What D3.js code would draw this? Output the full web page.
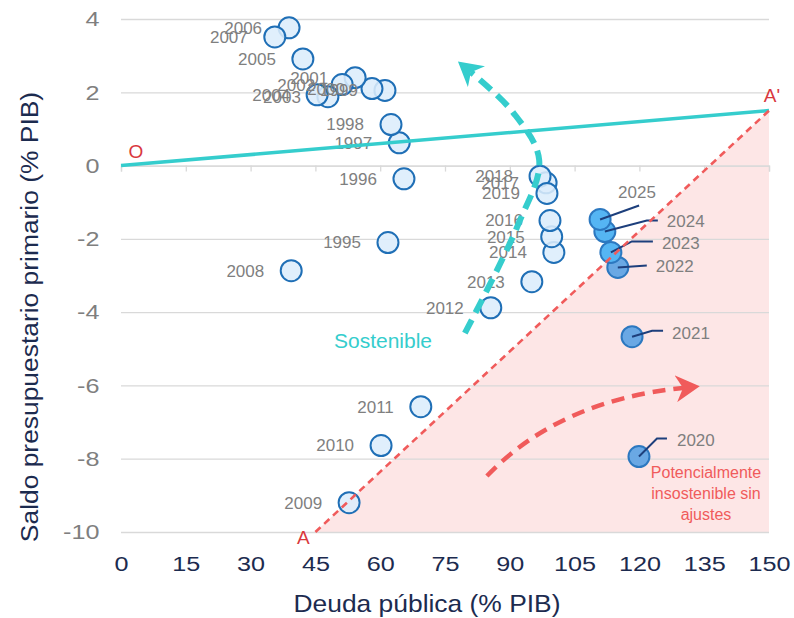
<!DOCTYPE html>
<html>
<head>
<meta charset="utf-8">
<script src="https://cdn.jsdelivr.net/npm/d3@7"></script>
<style>
body{margin:0;background:#fff;}
text{font-family:"Liberation Sans",Arial,sans-serif;}
</style>
</head>
<body>
<div id="chart"></div>
<script>
(function(){
"use strict";

// data (deuda % PIB, saldo primario % PIB)
var years = ["1995","1996","1997","1998","1999","2000","2001","2002","2003","2004",
  "2005","2006","2007","2008","2009","2010","2011","2012","2013","2014",
  "2015","2016","2017","2018","2019","2020","2021","2022","2023","2024","2025"];
var debt = [61.8,65.5,64.4,62.5,61.1,58.1,54.2,51.2,47.9,45.4,
  42.1,38.9,35.6,39.4,52.8,60.2,69.4,85.6,95.1,100.2,
  99.7,99.3,98.4,97.0,98.6,119.9,118.3,115.0,113.4,112.0,110.9];
var balance = [-2.10,-0.36,0.62,1.12,2.05,2.10,2.40,2.21,1.88,1.93,
  2.91,3.76,3.51,-2.87,-9.20,-7.64,-6.58,-3.88,-3.17,-2.37,
  -1.94,-1.50,-0.47,-0.29,-0.76,-7.94,-4.67,-2.78,-2.37,-1.80,-1.47];
var projected = ["2020","2021","2022","2023","2024","2025"];
var brightYears = ["2023","2024","2025"];

var xTicks = [0,15,30,45,60,75,90,105,120,135,150];
var yTicks = [-10,-8,-6,-4,-2,0,2,4];

// reference lines / zones (data units)
var lineOA = [[0,0],[150,1.5]];
var lineAA = [[45,-10],[150,1.5]];
var riskZone = [[45,-10],[150,1.5],[150,-10]];
var sustArc = [[79.6,-4.57],[91.9,-1.62],[96.8,0.15],[90.7,1.46],[81.0,2.55]];
var riskArc = {start:[84.7,-8.47], ctrl:[101.6,-6.40], end:[130.1,-6.07]};

// callout layout for projections (pixels from the dot)
var callouts = {
  "2025": {line:[[39,-14]], label:[18,-27]},
  "2024": {line:[[42,-11],[53,-11]], label:[62,-10]},
  "2023": {line:[[21,-11],[42,-11]], label:[51,-9]},
  "2022": {line:[[29,-2]], label:[38,-1]},
  "2021": {line:[[20,-6],[31,-6]], label:[40,-4]},
  "2020": {line:[[18,-18],[28,-18]], label:[38,-16]}
};

var margin = {top: 19, left: 121};
var width = 648;
var height = 513;
var teal = "#35cdcd";
var red = "#f05b5b";
var navy = "#1c2b4f";
var grey = "#7f7f7f";

var svg = d3.select("#chart").append("svg")
  .attr("width", 794)
  .attr("height", 618);

var defs = svg.append("defs");
function head(id, color){
  defs.append("marker")
    .attr("id", id)
    .attr("viewBox", "0 0 10 10")
    .attr("refX", 3).attr("refY", 5)
    .attr("markerWidth", 24).attr("markerHeight", 27)
    .attr("markerUnits", "userSpaceOnUse")
    .attr("preserveAspectRatio", "none")
    .attr("orient", "auto")
  .append("path")
    .attr("d", "M0,0L10,5L0,10L3,5Z")
    .attr("fill", color);
}
head("tealHead", teal);
head("redHead", red);

var g = svg.append("g")
  .attr("transform", "translate(" + margin.left + "," + margin.top + ")");

var x = d3.scaleLinear().domain([0,150]).range([0,width]);
var y = d3.scaleLinear().domain([-10,4]).range([height,0]);

var line = d3.line().x(function(d){return x(d[0]);}).y(function(d){return y(d[1]);});

// zona potencialmente insostenible
g.append("path")
  .attr("d", line(riskZone) + "Z")
  .attr("fill", "#fde6e6");

// grid + y labels
var yAxis = g.append("g")
  .call(d3.axisLeft(y).tickValues(yTicks).tickSizeInner(-width).tickSizeOuter(0).tickPadding(18)
    .tickFormat(function(d){return String(d);}));
yAxis.select(".domain").remove();
yAxis.selectAll("line").attr("stroke", "#d9d9d9").attr("stroke-width", 1.3);
yAxis.selectAll("text")
  .attr("fill", grey)
  .style("font-size", "21px")
  .attr("transform", "scale(1.2,1)");

// x axis on zero line (ticks only)
var zeroAxis = g.append("g")
  .attr("transform", "translate(0," + y(0) + ")")
  .call(d3.axisBottom(x).tickValues(xTicks).tickSize(6).tickFormat(""));
zeroAxis.selectAll("line,path").attr("stroke", "#d9d9d9").attr("stroke-width", 1.3);

// x labels at bottom
var xAxis = g.append("g")
  .attr("transform", "translate(0," + height + ")")
  .call(d3.axisBottom(x).tickValues(xTicks).tickSize(0).tickPadding(24));
xAxis.select(".domain").remove();
xAxis.selectAll("text")
  .attr("fill", navy)
  .style("font-size", "21px")
  .attr("transform", "scale(1.2,1)");

// points
var pts = years.map(function(yr, i){
  return {year: yr, x: debt[i], y: balance[i], proj: projected.indexOf(yr) >= 0};
});

g.selectAll(".dot")
  .data(pts)
  .enter()
  .append("circle")
    .attr("class", "dot")
    .attr("cx", function(d){return x(d.x);})
    .attr("cy", function(d){return y(d.y);})
    .attr("r", 10.5)
    .attr("fill", function(d){
      if (!d.proj) return "#dcedfc";
      return brightYears.indexOf(d.year) >= 0 ? "#55b5f3" : "#6aa8e4";
    })
    .attr("fill-opacity", function(d){return d.proj ? 1 : 0.88;})
    .attr("stroke", function(d){return d.proj ? "#2c78c0" : "#1f6fb6";})
    .attr("stroke-width", 2);

// year labels (historical)
g.selectAll(".yr")
  .data(pts.filter(function(d){return !d.proj;}))
  .enter()
  .append("text")
    .attr("class", "yr")
    .attr("x", function(d){return x(d.x) - 27;})
    .attr("y", function(d){return y(d.y);})
    .attr("dy", "0.35em")
    .attr("text-anchor", "end")
    .attr("fill", grey)
    .style("font-size", "17px")
    .text(function(d){return d.year;});

// projections with leader lines
pts.filter(function(d){return d.proj;}).forEach(function(d){
  var c = callouts[d.year];
  var cx = x(d.x), cy = y(d.y);
  var p = [[cx,cy]].concat(c.line.map(function(o){return [cx+o[0], cy+o[1]];}));
  g.append("path")
    .attr("d", d3.line()(p))
    .attr("fill", "none")
    .attr("stroke", "#1d3f7c")
    .attr("stroke-width", 2);
  g.append("text")
    .attr("x", cx + c.label[0])
    .attr("y", cy + c.label[1])
    .attr("dy", "0.35em")
    .attr("fill", grey)
    .style("font-size", "17px")
    .text(d.year);
});

// O - A' line
g.append("path")
  .attr("d", line(lineOA))
  .attr("fill", "none")
  .attr("stroke", teal)
  .attr("stroke-width", 3.5);

// A - A' threshold
g.append("path")
  .attr("d", line(lineAA))
  .attr("fill", "none")
  .attr("stroke", red)
  .attr("stroke-width", 2.6)
  .attr("stroke-dasharray", "7,5");

// curved arrows
g.append("path")
  .attr("d", line.curve(d3.curveCatmullRom)(sustArc))
  .attr("fill", "none")
  .attr("stroke", teal)
  .attr("stroke-width", 6)
  .attr("stroke-dasharray", "15,8")
  .attr("marker-end", "url(#tealHead)");
line.curve(d3.curveLinear);

var rp = d3.path();
rp.moveTo(x(riskArc.start[0]), y(riskArc.start[1]));
rp.quadraticCurveTo(x(riskArc.ctrl[0]), y(riskArc.ctrl[1]), x(riskArc.end[0]), y(riskArc.end[1]));
g.append("path")
  .attr("d", rp.toString())
  .attr("fill", "none")
  .attr("stroke", red)
  .attr("stroke-width", 4.5)
  .attr("stroke-dasharray", "13,8")
  .attr("marker-end", "url(#redHead)");

// letters
var letters = [
  {t:"O", x:x(0)+15, y:y(0)-8},
  {t:"A'", x:x(150)+3, y:y(1.5)-9},
  {t:"A", x:x(45)-12, y:y(-10)+12}
];
g.selectAll(".lt")
  .data(letters)
  .enter()
  .append("text")
    .attr("x", function(d){return d.x;})
    .attr("y", function(d){return d.y;})
    .attr("text-anchor", "middle")
    .attr("fill", "#d9383d")
    .style("font-size", "19px")
    .text(function(d){return d.t;});

g.append("text")
  .attr("x", 383 - margin.left)
  .attr("y", 341 - margin.top)
  .attr("dy", "0.35em")
  .attr("text-anchor", "middle")
  .attr("fill", teal)
  .style("font-size", "21px")
  .text("Sostenible");

var warn = g.append("text")
  .attr("text-anchor", "middle")
  .attr("fill", red)
  .style("font-size", "16px");
["Potencialmente", "insostenible sin", "ajustes"].forEach(function(s, i){
  warn.append("tspan")
    .attr("x", 706 - margin.left)
    .attr("y", 472 - margin.top + i*21)
    .attr("dy", "0.35em")
    .text(s);
});

// axis titles
svg.append("text")
  .attr("transform", "translate(427,612) scale(1.1,1)")
  .attr("text-anchor", "middle")
  .attr("fill", navy)
  .style("font-size", "24px")
  .text("Deuda pública (% PIB)");

svg.append("text")
  .attr("transform", "translate(38,317) rotate(-90) scale(1.1,1)")
  .attr("text-anchor", "middle")
  .attr("fill", navy)
  .style("font-size", "24px")
  .text("Saldo presupuestario primario (% PIB)");

})();
</script>
</body>
</html>
